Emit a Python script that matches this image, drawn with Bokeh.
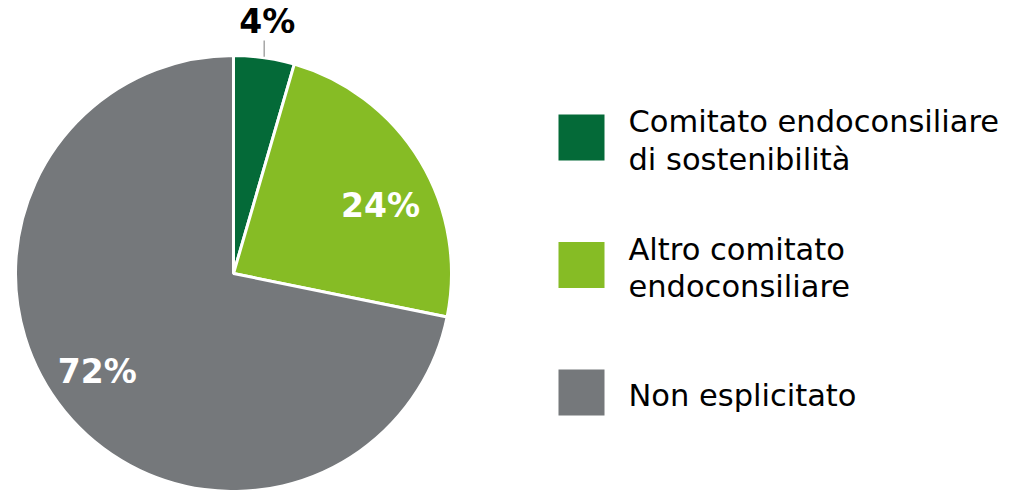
import math
from bokeh.plotting import figure
from bokeh.models import Range1d, ColumnDataSource
from bokeh.core.properties import value
from bokeh.embed import file_html
from bokeh.resources import INLINE

# ---- data ----
categories = ["Comitato endoconsiliare\ndi sostenibilità",
              "Altro comitato\nendoconsiliare",
              "Non esplicitato"]
values = [4.5, 23.7, 71.8]
pct_labels = ["4%", "24%", "72%"]
colors = ["#046A38", "#86BC25", "#75787B"]

# ---- layout (canvas pixel coords; y measured downward) ----
W, H = 1004, 490
def Y(py):
    return H - py

CX, CY, R = 233, 273, 218
FONT = "DejaVu Sans"
LBL_FS = 33
LEG_FS = 30.5

def base_fix(fs):
    # baseline correction for svg text placement
    return 0.36 * fs

p = figure(width=W, height=H, output_backend="svg", toolbar_location=None,
           x_range=Range1d(0, W), y_range=Range1d(0, H),
           min_border=0)
p.axis.visible = False
p.grid.visible = False
p.outline_line_color = None
p.background_fill_color = "white"
p.border_fill_color = "white"

total = sum(values)
starts, ends, mids = [], [], []
acc = 0.0
for v in values:
    a0 = acc / total * 2 * math.pi
    acc += v
    a1 = acc / total * 2 * math.pi
    starts.append(math.pi / 2 - a0)
    ends.append(math.pi / 2 - a1)
    mids.append((a0 + a1) / 2)  # clockwise from top

src = ColumnDataSource(dict(x=[CX] * 3, y=[Y(CY)] * 3, s=starts, e=ends, c=colors))
p.wedge(x="x", y="y", radius=R, radius_units="screen", start_angle="s", end_angle="e",
        direction="clock", fill_color="c", line_color="white", line_width=3, source=src)

# small slice: outside label with leader
m0 = mids[0]
lx = CX + R * math.sin(m0)
ly_arc = CY - R * math.cos(m0)
p.line([lx, lx], [Y(ly_arc - 1), Y(40)], line_color="#A6A6A6", line_width=1.5)
p.text([lx + 3], [Y(33 - base_fix(LBL_FS))], text=[pct_labels[0]], text_font=value(FONT),
       text_font_style="bold", text_font_size=f"{LBL_FS}px", text_color="black",
       text_align="center", text_baseline="alphabetic")

# inside labels
inner = [(1, 162, 6.3), (2, 168, 3.4)]
for i, rr, dtheta in inner:
    ang = mids[i] + math.radians(dtheta)
    tx = CX + rr * math.sin(ang)
    ty = CY - rr * math.cos(ang)
    p.text([tx], [Y(ty + 12 - base_fix(LBL_FS))], text=[pct_labels[i]], text_font=value(FONT),
           text_font_style="bold", text_font_size=f"{LBL_FS}px", text_color="white",
           text_align="center", text_baseline="alphabetic")

# legend
LEG_X, LEG_TOP, LEG_STEP, SQ = 581, 137, 127.5, 46
TXT_X, LINE_H = 628, 37.5
for i, (cat, col) in enumerate(zip(categories, colors)):
    cyl = LEG_TOP + i * LEG_STEP
    p.rect([LEG_X], [Y(cyl)], width=SQ, height=SQ, width_units="screen", height_units="screen",
           fill_color=col, line_color=None)
    lines = cat.split("\n")
    n = len(lines)
    b0 = cyl + 14 - (n - 1) * LINE_H / 2
    for j, ln in enumerate(lines):
        p.text([TXT_X], [Y(b0 + j * LINE_H - base_fix(LEG_FS))], text=[ln], text_font=value(FONT),
               text_font_size=f"{LEG_FS}px", text_color="black", text_align="left",
               text_baseline="alphabetic")

open("out.html", "w").write(file_html(p, INLINE))
